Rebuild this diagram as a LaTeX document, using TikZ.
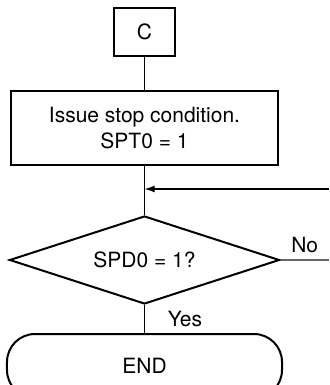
\documentclass[tikz,border=0pt]{standalone}
\usepackage{fontspec}
\setmainfont{TeX Gyre Heros}
\usepackage{tikz}
\usetikzlibrary{arrows.meta,positioning,shapes.geometric}
\tikzset{
  conn/.style    = {rectangle, draw=black, line width=1pt, align=center,
                    minimum width=30pt, minimum height=24pt, font=\fontsize{10.5}{12.6}\selectfont},
  procbox/.style = {conn, minimum width=133.5pt, minimum height=37pt},
  decide/.style  = {diamond, draw=black, line width=1pt, inner sep=0pt, aspect=3.07,
                    minimum width=135pt, minimum height=44pt, font=\fontsize{10.5}{12.6}\selectfont},
  term/.style    = {conn, rounded corners=14pt, minimum width=137.5pt, minimum height=32pt},
  lbl/.style     = {font=\fontsize{10.5}{12.6}\selectfont},
  ln/.style      = {line width=0.6pt},
  fl/.style      = {ln, -{Latex[length=5pt,width=3.4pt]}},
}

\begin{document}
\begin{tikzpicture}
    \useasboundingbox (-72.25pt,16pt) rectangle (92.25pt,-176.5pt);
    \clip (-72.25pt,16pt) rectangle (92.25pt,-176.5pt);
    \node[conn] (c) at (0,0) {C};
    \node[procbox, below=16.5pt of c] (stop) {Issue stop condition.\\SPT0 = 1};
    \node[decide, below=24.5pt of stop] (spd) {SPD0 = 1?};
    \node[term, below=14pt of spd] (fin) {END};
    \coordinate (join) at (0,-78.5pt);
    \coordinate (back) at (92.25pt,-78.5pt);
    \coordinate (noend) at (spd.east -| back);
    % connectors
    \draw[ln] (c) -- (stop);
    \draw[ln] (stop) -- (spd);
    \draw[fl] (back) -- (join);
    \draw[ln, draw=black!60] (spd.east) -- node[lbl, above] {No} (noend);
    \draw[ln] (spd) -- node[lbl, right=8pt] {Yes} (fin);
\end{tikzpicture}
\end{document}
